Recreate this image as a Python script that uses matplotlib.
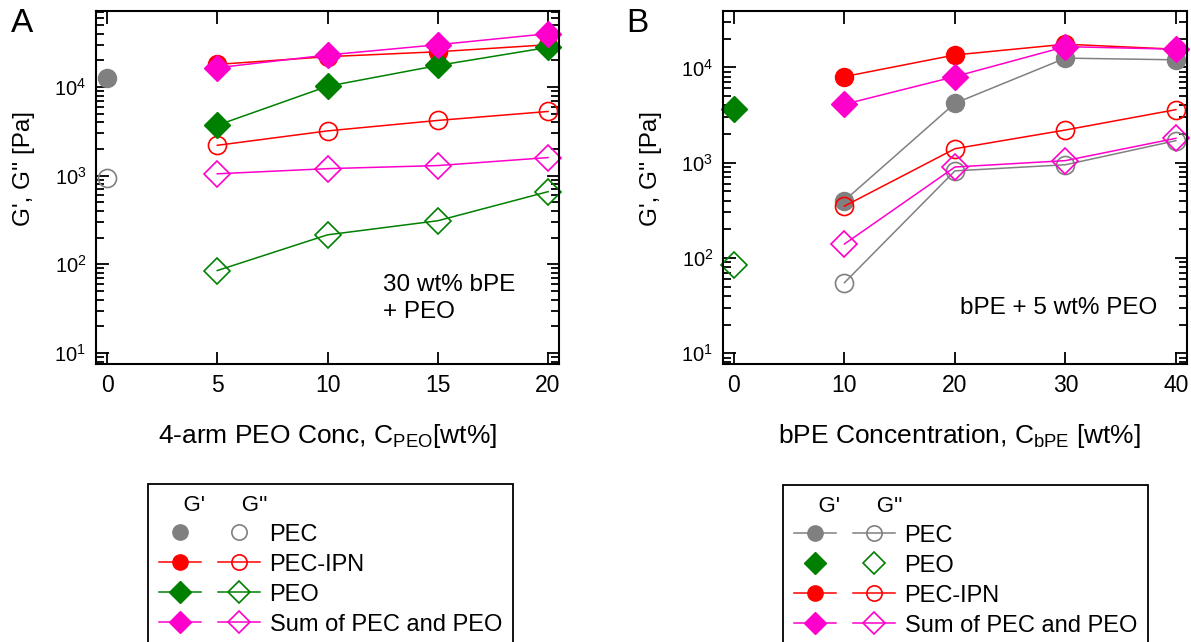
import matplotlib
matplotlib.use("Agg")
import matplotlib.pyplot as plt
from matplotlib.lines import Line2D
from matplotlib.legend_handler import HandlerTuple

plt.rcParams['font.family'] = ['Liberation Sans', 'DejaVu Sans']
plt.rcParams['mathtext.fontset'] = 'custom'
plt.rcParams['mathtext.rm'] = 'Liberation Sans'
plt.rcParams['mathtext.it'] = 'Liberation Sans:italic'
plt.rcParams['mathtext.bf'] = 'Liberation Sans:bold'

GRAY = '#808080'
RED = '#ff0000'
GREEN = '#008000'
MAG = '#ff00cc'

# panel A: 30 wt% bPE + PEO, x = 4-arm PEO conc
a_pec_x = [0]
a_pec_g1 = [1.25e4]
a_pec_g2 = [950]
a_x = [5, 10, 15, 20]
a_ipn_g1 = [1.8e4, 2.2e4, 2.5e4, 3.0e4]
a_ipn_g2 = [2.2e3, 3.2e3, 4.2e3, 5.3e3]
a_peo_g1 = [3.7e3, 1.02e4, 1.75e4, 2.8e4]
a_peo_g2 = [85, 215, 310, 660]
a_sum_g1 = [1.65e4, 2.3e4, 3.0e4, 4.0e4]
a_sum_g2 = [1.05e3, 1.2e3, 1.3e3, 1.6e3]

# panel B: bPE + 5 wt% PEO, x = bPE concentration
b_x = [10, 20, 30, 40]
b_pec_g1 = [400, 4.2e3, 1.25e4, 1.2e4]
b_pec_g2 = [55, 820, 950, 1.7e3]
b_peo_x = [0]
b_peo_g1 = [3.7e3]
b_peo_g2 = [85]
b_ipn_g1 = [8e3, 1.35e4, 1.75e4, 1.55e4]
b_ipn_g2 = [350, 1.4e3, 2.2e3, 3.6e3]
b_sum_g1 = [4.1e3, 8e3, 1.65e4, 1.55e4]
b_sum_g2 = [140, 900, 1.05e3, 1.8e3]

fig = plt.figure(figsize=(11.91, 6.42), dpi=100)
axA = fig.add_axes([0.0806, 0.433, 0.3888, 0.5498])
axB = fig.add_axes([0.607, 0.433, 0.3896, 0.5498])

CMS = 13   # circle size
DMS = 13   # diamond size


def series(ax, x, y1, y2, color, marker, ms, ls='-'):
    ax.plot(x, y1, ls, color=color, lw=1.1, marker=marker, ms=ms,
            mfc=color, mec=color, clip_on=False)
    ax.plot(x, y2, ls, color=color, lw=1.1, marker=marker, ms=ms,
            mfc='none', mec=color, mew=1.2, clip_on=False)


series(axA, a_pec_x, a_pec_g1, a_pec_g2, GRAY, 'o', CMS, ls='none')
series(axA, a_x, a_ipn_g1, a_ipn_g2, RED, 'o', CMS)
series(axA, a_x, a_peo_g1, a_peo_g2, GREEN, 'D', DMS)
series(axA, a_x, a_sum_g1, a_sum_g2, MAG, 'D', DMS)

series(axB, b_x, b_pec_g1, b_pec_g2, GRAY, 'o', CMS)
series(axB, b_peo_x, b_peo_g1, b_peo_g2, GREEN, 'D', DMS, ls='none')
series(axB, b_x, b_ipn_g1, b_ipn_g2, RED, 'o', CMS)
series(axB, b_x, b_sum_g1, b_sum_g2, MAG, 'D', DMS)

axA.set_xlim(-0.5, 20.5)
axA.set_ylim(7.5, 7.2e4)
axA.set_xticks([0, 5, 10, 15, 20])
axB.set_xlim(-1, 41)
axB.set_ylim(7.7, 3.9e4)
axB.set_xticks([0, 10, 20, 30, 40])

for ax in (axA, axB):
    ax.set_yscale('log')
    ax.tick_params(which='both', direction='in', top=True, right=True,
                   width=1.3, pad=7)
    ax.tick_params(axis='x', labelsize=16.5)
    ax.tick_params(axis='y', labelsize=14.5)
    ax.tick_params(which='major', length=9)
    ax.tick_params(which='minor', length=6)
    for s in ax.spines.values():
        s.set_linewidth(1.5)
    ax.set_ylabel("G', G'' [Pa]", fontsize=17.5)

axA.set_xlabel(r"4-arm PEO Conc, C$_{\mathrm{PEO}}$[wt%]", fontsize=19)
axB.set_xlabel(r"bPE Concentration, C$_{\mathrm{bPE}}$ [wt%]", fontsize=19)
axA.xaxis.set_label_coords(0.5, -0.165)
axB.xaxis.set_label_coords(0.51, -0.165)
axA.yaxis.set_label_coords(-0.132, 0.555)
axB.yaxis.set_label_coords(-0.132, 0.555)

axA.text(0.62, 0.255, "30 wt% bPE\n+ PEO", transform=axA.transAxes,
         fontsize=17.5, ha='left', va='top', linespacing=1.3)
axB.text(0.935, 0.16, "bPE + 5 wt% PEO", transform=axB.transAxes,
         fontsize=17.5, ha='right', va='center')

fig.text(0.009, 0.963, "A", fontsize=24, ha='left', va='center')
fig.text(0.526, 0.963, "B", fontsize=24, ha='left', va='center')


def pair(color, marker, ms, ls='-'):
    f = Line2D([], [], ls=ls, color=color, lw=1.1, marker=marker, ms=ms,
               mfc=color, mec=color)
    o = Line2D([], [], ls=ls, color=color, lw=1.1, marker=marker, ms=ms,
               mfc='none', mec=color, mew=1.2)
    return (f, o)


LMS_C = 11
LMS_D = 11


def make_legend(handles, labels, anchor):
    leg = fig.legend(
        handles, labels,
        handler_map={tuple: HandlerTuple(ndivide=None, pad=0.7)},
        loc='upper left', bbox_to_anchor=anchor,
        title="    G'      G''", alignment='left', title_fontsize=16,
        fontsize=17, handlelength=4.3, handletextpad=0.4, labelspacing=0.34,
        borderpad=0.45, borderaxespad=0, fancybox=False, edgecolor='black',
        framealpha=1)
    leg.get_frame().set_linewidth(1.3)
    return leg


make_legend([pair(GRAY, 'o', LMS_C, 'none'), pair(RED, 'o', LMS_C),
             pair(GREEN, 'D', LMS_D), pair(MAG, 'D', LMS_D)],
            ['PEC', 'PEC-IPN', 'PEO', 'Sum of PEC and PEO'],
            (148 / 1191, 1 - 484 / 642))

make_legend([pair(GRAY, 'o', LMS_C), pair(GREEN, 'D', LMS_D, 'none'),
             pair(RED, 'o', LMS_C), pair(MAG, 'D', LMS_D)],
            ['PEC', 'PEO', 'PEC-IPN', 'Sum of PEC and PEO'],
            (783 / 1191, 1 - 485 / 642))

fig.savefig('out.png', dpi=100)
